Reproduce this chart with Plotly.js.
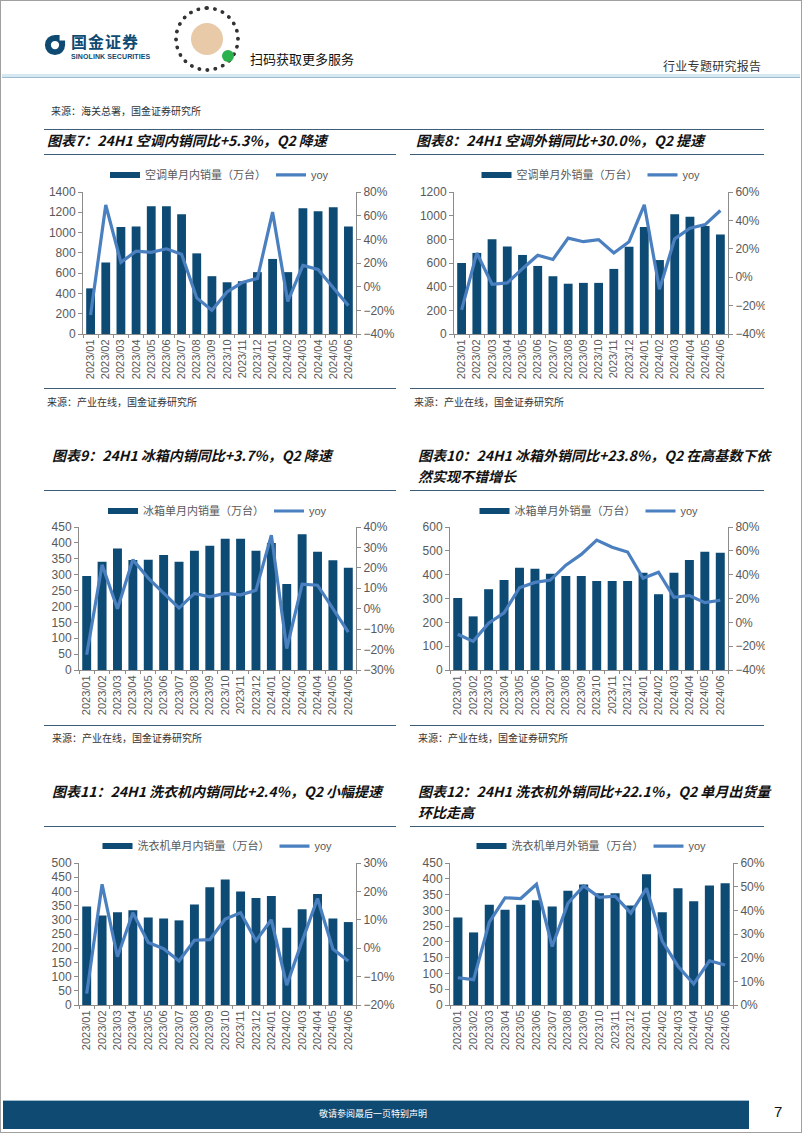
<!DOCTYPE html>
<html><head><meta charset="utf-8">
<script src="https://cdn.plot.ly/plotly-3.0.1.min.js"></script>
<style>
body{margin:0;background:#fff;}
#page{position:relative;width:802px;height:1133px;overflow:hidden;background:#fff;font-family:"Noto Sans CJK SC",sans-serif;}
.abs{position:absolute;}
.title{position:absolute;font-weight:bold;font-style:italic;font-size:14px;color:#111;line-height:21px;white-space:nowrap;font-family:"Noto Sans CJK SC","Liberation Sans",sans-serif;}
.src{position:absolute;font-size:10px;color:#333;white-space:nowrap;}
.hl{position:absolute;height:0;border-top:1.5px solid #3d5d78;}
.chart{position:absolute;}
</style></head>
<body>
<div id="page">
  <div class="abs" style="left:0;top:0;width:800px;height:1131px;border:1px solid #a0a0a0;"></div>
  <!-- header -->
  <svg class="abs" style="left:44px;top:34px" width="22" height="22" viewBox="0 0 24 24">
    <path d="M12 1 A11 11 0 1 0 23 12 L23 7 L17 7 L17 1 Z" fill="#0e4a72"/>
    <circle cx="12" cy="12" r="4.5" fill="#fff"/>
  </svg>
  <div class="abs" style="left:71px;top:31px;font-size:16px;line-height:20px;font-weight:bold;color:#0e4a72;letter-spacing:1px;">国金证券</div>
  <div class="abs" style="left:71px;top:53px;font-size:7px;line-height:8px;font-weight:bold;color:#0e4a72;font-family:'Liberation Sans',sans-serif;letter-spacing:0.1px;">SINOLINK SECURITIES</div>
  <div class="abs" style="left:174px;top:6px;width:58px;height:58px;border-radius:50%;border:4px dotted #333;"></div>
  <div class="abs" style="left:191px;top:23px;width:32px;height:32px;border-radius:50%;background:#e8c9a8;"></div>
  <div class="abs" style="left:222px;top:50px;width:12px;height:12px;border-radius:50%;background:#2bb24c;"></div>
  <div class="abs" style="left:250px;top:49px;font-size:13px;color:#111;">扫码获取更多服务</div>
  <div class="abs" style="left:663px;top:57px;font-size:12px;color:#333;letter-spacing:0.3px;">行业专题研究报告</div>
  <div class="abs" style="left:2px;top:74px;width:798px;height:3px;background:#d6e8f1;border-bottom:1px solid #9fbccc;"></div>
  <div class="src" style="left:51px;top:103px;">来源：海关总署，国金证券研究所</div>

  <!-- row 1 -->
  <div class="hl" style="left:44px;top:129px;width:720px;"></div>
  <div class="title" style="left:47px;top:130px;">图表7：24H1 空调内销同比+5.3%，Q2 降速</div>
  <div class="title" style="left:416px;top:130px;">图表8：24H1 空调外销同比+30.0%，Q2 提速</div>
  <div class="hl" style="left:44px;top:154px;width:352px;"></div>
  <div class="hl" style="left:410px;top:154px;width:354px;"></div>
  <div id="c7" class="chart" style="left:40px;top:160px;width:360px;height:230px;"></div>
  <div id="c8" class="chart" style="left:405px;top:160px;width:360px;height:230px;"></div>
  <div class="hl" style="left:44px;top:388px;width:352px;"></div>
  <div class="hl" style="left:410px;top:388px;width:354px;"></div>
  <div class="src" style="left:47px;top:394px;">来源：产业在线，国金证券研究所</div>
  <div class="src" style="left:414px;top:394px;">来源：产业在线，国金证券研究所</div>

  <!-- row 2 -->
  <div class="title" style="left:52px;top:445px;">图表9：24H1 冰箱内销同比+3.7%，Q2 降速</div>
  <div class="title" style="left:418px;top:445px;">图表10：24H1 冰箱外销同比+23.8%，Q2 在高基数下依</div>
  <div class="title" style="left:418px;top:466px;">然实现不错增长</div>
  <div class="hl" style="left:44px;top:490px;width:352px;"></div>
  <div class="hl" style="left:410px;top:490px;width:354px;"></div>
  <div id="c9" class="chart" style="left:40px;top:495px;width:360px;height:225px;"></div>
  <div id="c10" class="chart" style="left:405px;top:495px;width:360px;height:225px;"></div>
  <div class="hl" style="left:44px;top:725px;width:352px;"></div>
  <div class="hl" style="left:410px;top:725px;width:354px;"></div>
  <div class="src" style="left:52px;top:730px;">来源：产业在线，国金证券研究所</div>
  <div class="src" style="left:418px;top:730px;">来源：产业在线，国金证券研究所</div>

  <!-- row 3 -->
  <div class="title" style="left:52px;top:781px;">图表11：24H1 洗衣机内销同比+2.4%，Q2 小幅提速</div>
  <div class="title" style="left:418px;top:781px;">图表12：24H1 洗衣机外销同比+22.1%，Q2 单月出货量</div>
  <div class="title" style="left:418px;top:802px;">环比走高</div>
  <div class="hl" style="left:44px;top:826px;width:352px;"></div>
  <div class="hl" style="left:410px;top:826px;width:354px;"></div>
  <div id="c11" class="chart" style="left:40px;top:830px;width:360px;height:230px;"></div>
  <div id="c12" class="chart" style="left:405px;top:830px;width:360px;height:230px;"></div>

  <!-- footer -->
  <div class="abs" style="left:3px;top:1100px;width:746px;height:28px;background:#0e4a72;border-top:1px solid #9fbccc;"></div>
  <div class="abs" style="left:3px;top:1107px;width:740px;text-align:center;font-size:9px;color:#fff;">敬请参阅最后一页特别声明</div>
  <div class="abs" style="left:774px;top:1103px;font-size:15px;color:#111;font-family:'Liberation Sans',sans-serif;">7</div>
</div>
<script>
const months = ['2023/01','2023/02','2023/03','2023/04','2023/05','2023/06','2023/07','2023/08','2023/09','2023/10','2023/11','2023/12','2024/01','2024/02','2024/03','2024/04','2024/05','2024/06'];

// 图表7 空调内销
const acDomName = '空调单月内销量（万台）';
const acDom = [450,705,1055,1060,1260,1260,1180,795,570,510,520,610,740,610,1240,1210,1250,1060];
const acDomYoy = [-24,69,20.5,30,29,32,27.5,-9.5,-20,-4.5,3.5,7,63,-12.5,18,14.5,-1,-16];

// 图表8 空调外销
const acExpName = '空调单月外销量（万台）';
const acExp = [600,685,800,740,668,575,488,425,432,432,550,738,905,625,1012,990,912,840];
const acExpYoy = [-23,17,-5,-4,6,15.5,12.5,27.5,25,26.5,17,25,51,-8.5,27,34.5,37,47];

// 图表9 冰箱内销
const frDomName = '冰箱单月内销量（万台）';
const frDom = [296,341,382,346,347,362,341,375,391,413,413,375,400,271,427,372,345,322];
const frDomYoy = [-22.5,21.5,0,24,15,7.5,0.3,7.5,5.8,7.5,6.8,9,36,-19.5,12,11.5,0,-11.5];

// 图表10 冰箱外销
const frExpName = '冰箱单月外销量（万台）';
const frExp = [302,225,339,378,429,425,404,394,394,373,373,373,408,318,408,462,496,492];
const frExpYoy = [-10,-16,-0.7,8,29,33.5,35.5,48,57,69,63,59,37,42,21,22.5,16.5,18.5];

// 图表11 洗衣机内销
const wmDomName = '洗衣机单月内销量（万台）';
const wmDom = [347,315,327,334,308,305,298,354,415,442,400,377,384,272,337,391,305,292];
const wmDomYoy = [-16,22.5,-3,12.5,2,-0.2,-4.5,2.8,3,10.3,12.5,2.6,10,-13,2.5,17.5,-0.3,-4.5];

// 图表12 洗衣机外销
const wmExpName = '洗衣机单月外销量（万台）';
const wmExp = [277,230,318,302,318,332,312,362,382,354,354,315,414,294,370,329,379,386];
const wmExpYoy = [11.5,10.7,35,45.3,45,51,24.7,43,50.3,45.5,46,38.8,49.3,27,16.4,8.9,18.7,16.9];

const BAR = '#0d4b74';
const LINE = '#4a7fc0';
const AX = '#8c8c8c';
const TXT = '#595959';

function makeChart(id, w, h, m, barName, bars, yoy, yr, ydt, y2r, y2dt, legY) {
  const traces = [
    {type:'bar', x:months, y:bars, marker:{color:BAR}, showlegend:false, hoverinfo:'skip'},
    {type:'scatter', mode:'lines', x:[null], y:[null], name:barName, line:{color:BAR, width:6}, showlegend:true, hoverinfo:'skip'},
    {type:'scatter', mode:'lines', x:months, y:yoy, yaxis:'y2', name:'yoy', line:{color:LINE, width:3.2}, hoverinfo:'skip'}
  ];
  const axBase = {showline:true, linecolor:AX, linewidth:1, ticks:'outside', ticklen:4, tickcolor:AX, showgrid:false, zeroline:false, fixedrange:true};
  const layout = {
    width:w, height:h,
    margin:{l:m[0], r:m[1], t:m[2], b:m[3], pad:0, autoexpand:false},
    paper_bgcolor:'rgba(0,0,0,0)', plot_bgcolor:'rgba(0,0,0,0)',
    font:{family:'"Liberation Sans", Arial, "Noto Sans CJK SC", sans-serif', size:11, color:TXT},
    bargap:0.42,
    showlegend:true,
    legend:{orientation:'h', x:0.5, xanchor:'center', yref:'container', y:legY, yanchor:'middle', font:{size:11, color:TXT}, traceorder:'normal', bgcolor:'rgba(0,0,0,0)'},
    xaxis:Object.assign({}, axBase, {type:'category', tickangle:-90, tickson:'boundaries', ticklen:3, tickfont:{size:11, color:TXT}}),
    yaxis:Object.assign({}, axBase, {range:yr, dtick:ydt, tickfont:{size:12, color:TXT}}),
    yaxis2:Object.assign({}, axBase, {overlaying:'y', side:'right', range:y2r, dtick:y2dt, ticksuffix:'%', tickfont:{size:12, color:TXT}})
  };
  Plotly.newPlot(id, traces, layout, {displayModeBar:false, staticPlot:true});
}

makeChart('c7', 360, 230, [43,44,32,56], acDomName, acDom, acDomYoy, [0,1400], 200, [-40,80], 20, 0.935);
makeChart('c8', 360, 230, [49,37,32,56], acExpName, acExp, acExpYoy, [0,1200], 200, [-40,60], 20, 0.935);
makeChart('c9', 360, 225, [39,44,32,50], frDomName, frDom, frDomYoy, [0,450], 50, [-30,40], 10, 0.929);
makeChart('c10', 360, 225, [45,37,32,50], frExpName, frExp, frExpYoy, [0,600], 100, [-40,80], 20, 0.929);
makeChart('c11', 360, 230, [39,44,33,55], wmDomName, wmDom, wmDomYoy, [0,500], 50, [-20,30], 10, 0.930);
makeChart('c12', 360, 230, [45,32,33,55], wmExpName, wmExp, wmExpYoy, [0,450], 50, [0,60], 10, 0.930);
</script>
</body></html>
